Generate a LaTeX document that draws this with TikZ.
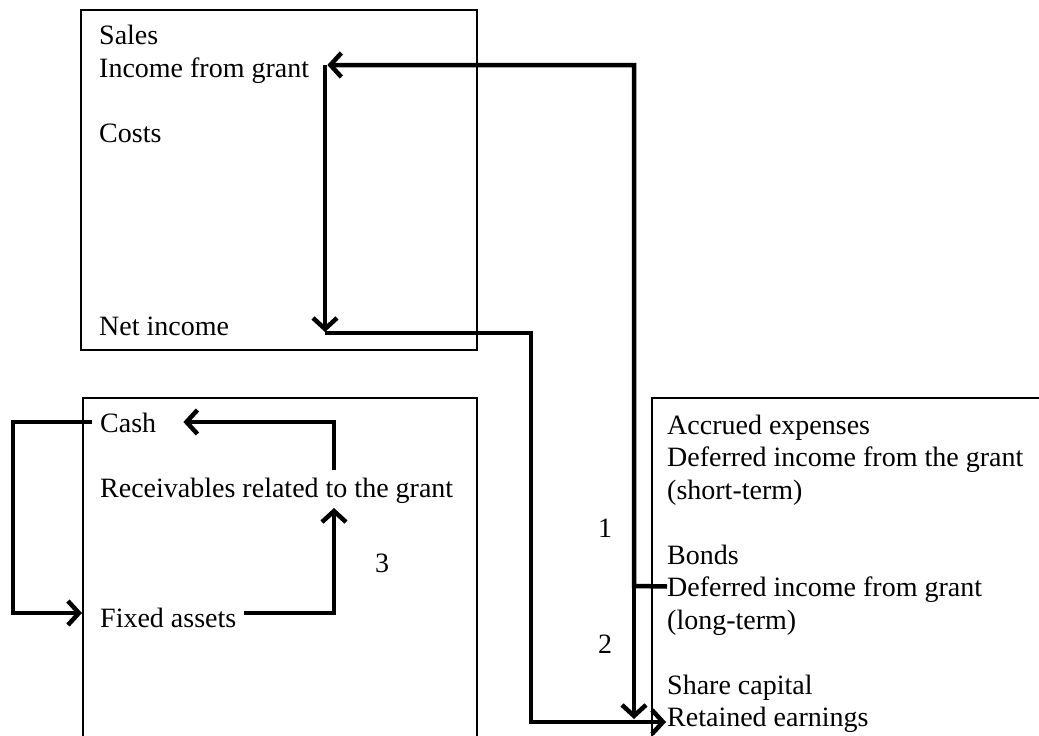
\documentclass[tikz,border=0pt]{standalone}
\usepackage{fontspec}
\setmainfont{Liberation Serif}
\usetikzlibrary{arrows.meta}
\begin{document}
\begin{tikzpicture}[x=1pt,y=-1pt,
  every node/.style={inner sep=0pt,font=\fontsize{28}{32.5}\selectfont},
  txt/.style={anchor=base west},
  num/.style={anchor=base},
  frame/.style={draw,line width=1.4pt},
  arr/.style={line width=4.5pt,line join=miter,
    -{Straight Barb[length=11pt,width=24pt,line width=4.5pt]}}]
\useasboundingbox (0,0) rectangle (1039,736);

% account frames
\draw[frame] (81,10) rectangle (477,350);
\draw[frame] (83,398) rectangle (477,760);
\draw[frame] (652,398) rectangle (1060,760);

% income statement
\node[txt] (sales)    at (99,44)  {Sales};
\node[txt] (incgrant) at (99,77)  {Income from grant};
\node[txt] (costs)    at (99,142) {Costs};
\node[txt] (netinc)   at (99,335) {Net income};

% assets
\node[txt] (cash)  at (100,432) {Cash};
\node[txt] (recv)  at (100,497) {Receivables related to the grant};
\node[txt] (fixed) at (100,627) {Fixed assets};

% liabilities and equity
\node[txt] (accrued)   at (667,434)   {Accrued expenses};
\node[txt] (defst)     at (667,466.5) {Deferred income from the grant};
\node[txt] (shortterm) at (667,499)   {(short-term)};
\node[txt] (bonds)     at (667,564)   {Bonds};
\node[txt] (deflt)     at (667,596.5) {Deferred income from grant};
\node[txt] (longterm)  at (667,629)   {(long-term)};
\node[txt] (sharecap)  at (667,694)   {Share capital};
\node[txt] (retained)  at (667,726.5) {Retained earnings};

% step numbers
\node[num] (lbl1) at (605,537) {1};
\node[num] (lbl2) at (605,653) {2};
\node[num] (lbl3) at (382,572) {3};

% bend points
\coordinate (j1) at (634,586);
\coordinate (gtip) at ([xshift=18pt,yshift=12pt]incgrant.base east);
\coordinate (gdown) at (325,65);
\coordinate (ntip) at (325,332);
\coordinate (nstart) at (325,333);
\coordinate (nbend) at (531,333);
\coordinate (rtip) at (634,719);
\coordinate (cleft) at (13,422);
\coordinate (rbend) at (334,613);
\coordinate (rtop) at (334,508);
\coordinate (rstart) at (334,470);

% grant released to income, and on to retained earnings
\draw[arr] ([yshift=10pt]deflt.base west) -- (j1) |- (gtip);
\draw[arr] (j1) -- (rtip);
\draw[arr] (gdown) -- (ntip);
\draw[arr] (nstart) -- (nbend) |- ([xshift=-1pt,yshift=4.5pt]retained.base west);

% cash, fixed assets and receivables
\draw[arr] ([xshift=-8pt,yshift=10pt]cash.base west) -- (cleft)
  |- ([xshift=-18pt,yshift=14pt]fixed.base west);
\draw[arr] ([xshift=7pt,yshift=14pt]fixed.base east) -- (rbend) -- (rtop);
\draw[arr] (rstart) |- ([xshift=27pt,yshift=10pt]cash.base east);
\end{tikzpicture}
\end{document}
